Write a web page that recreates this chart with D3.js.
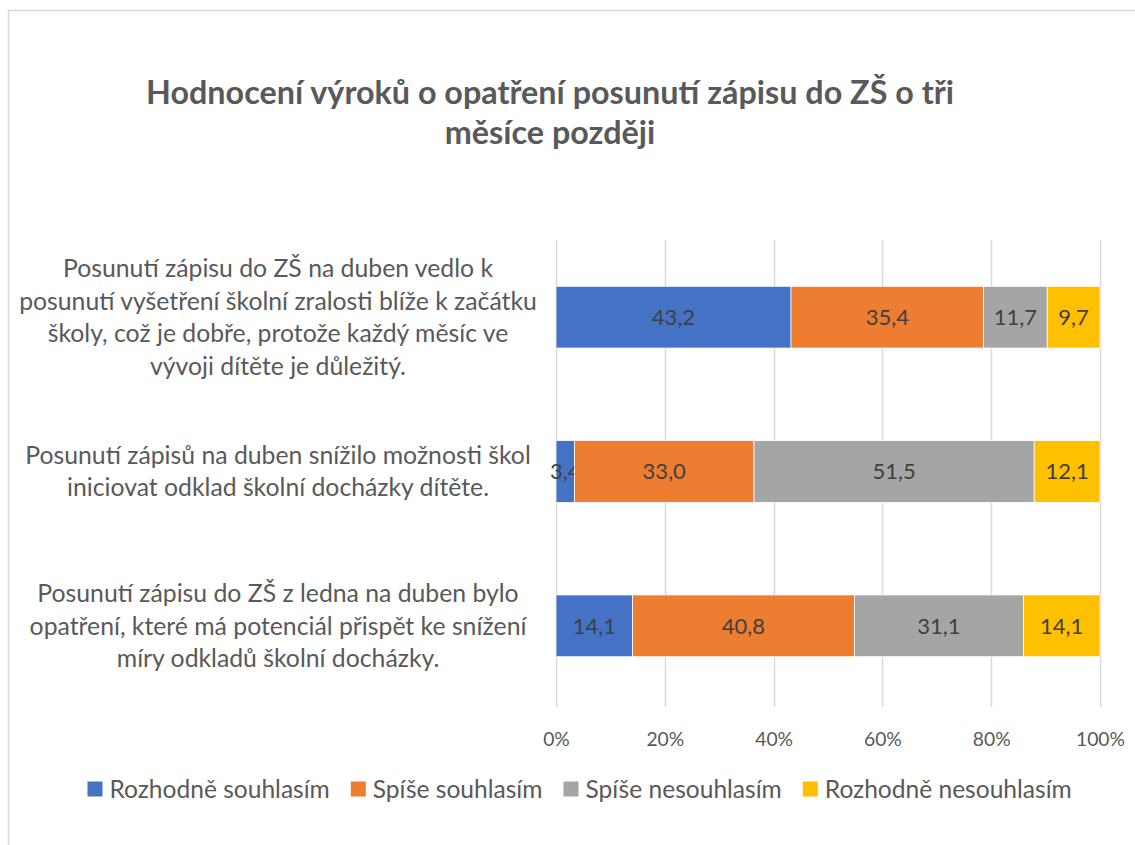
<!DOCTYPE html>
<html>
<head>
<meta charset="utf-8">
<script src="https://cdn.jsdelivr.net/npm/d3@7"></script>
<style>
  body { margin: 0; background: #fff; }
  svg { display: block; font-family: Lato, "Noto Sans", sans-serif; }
</style>
</head>
<body>
<svg id="chart" width="1135" height="845"></svg>
<script>
// data
var categories = ["c1", "c2", "c3"];
var categoryLines = [
  ["Posunutí zápisu do ZŠ na duben vedlo k",
   "posunutí vyšetření školní zralosti blíže k začátku",
   "školy, což je dobře, protože každý měsíc ve",
   "vývoji dítěte je důležitý."],
  ["Posunutí zápisů na duben snížilo možnosti škol",
   "iniciovat odklad školní docházky dítěte."],
  ["Posunutí zápisu do ZŠ z ledna na duben bylo",
   "opatření, které má potenciál přispět ke snížení",
   "míry odkladů školní docházky."]
];
var seriesNames = ["Rozhodně souhlasím", "Spíše souhlasím", "Spíše nesouhlasím", "Rozhodně nesouhlasím"];
var seriesColors = ["#4472C4", "#ED7D31", "#A5A5A5", "#FFC000"];
var rozhodneSouhlasim = [43.2, 3.4, 14.1];
var spiseSouhlasim = [35.4, 33.0, 40.8];
var spiseNesouhlasim = [11.7, 51.5, 31.1];
var rozhodneNesouhlasim = [9.7, 12.1, 14.1];
var tickValues = [0, 0.2, 0.4, 0.6, 0.8, 1];
var titleLines = ["Hodnocení výroků o opatření posunutí zápisu do ZŠ o tři", "měsíce později"];

var svg = d3.select("#chart");

// pick a font size so that sample text gets the width seen in the picture
function fitSize(sample, target, weight) {
  var t = svg.append("text").attr("font-size", 100).attr("font-weight", weight || "normal").text(sample);
  var w = t.node().getComputedTextLength();
  t.remove();
  return 100 * target / w;
}
var titleSize = fitSize(titleLines[0], 808, "bold");
var catSize = fitSize(categoryLines[0][1], 518);
var tickSize = fitSize("100%", 49);
var labelSize = 22;
var legendSize = fitSize("Rozhodně nesouhlasím", 247);

// chart area border
svg.append("rect")
  .attr("x", 8.5).attr("y", 10.5)
  .attr("width", 1140).attr("height", 850)
  .attr("fill", "none").attr("stroke", "#D9D9D9").attr("stroke-width", 1.5);

// title
svg.append("text")
  .attr("text-anchor", "middle")
  .attr("font-weight", "bold")
  .attr("font-size", titleSize)
  .attr("fill", "#595959")
  .selectAll("tspan").data(titleLines).enter().append("tspan")
  .attr("x", 550)
  .attr("y", function(d, i) { return 104 + i * 40; })
  .text(function(d) { return d; });

var x = d3.scaleLinear().domain([0, 1]).range([556, 1100]);
var y = d3.scaleBand().domain(categories).range([240, 703]).paddingInner(0.6).paddingOuter(0.3);

// gridlines
svg.append("g").selectAll("line").data(tickValues).enter().append("line")
  .attr("x1", function(d) { return Math.round(x(d)) + 0.5; })
  .attr("x2", function(d) { return Math.round(x(d)) + 0.5; })
  .attr("y1", 240).attr("y2", 707)
  .attr("stroke", "#D9D9D9").attr("stroke-width", 1.5);

// stacked bars
var rows = categories.map(function(c, i) {
  return {
    cat: c,
    s0: rozhodneSouhlasim[i], s1: spiseSouhlasim[i],
    s2: spiseNesouhlasim[i], s3: rozhodneNesouhlasim[i]
  };
});
var stack = d3.stack().keys(["s0", "s1", "s2", "s3"]).offset(d3.stackOffsetExpand);
var layers = stack(rows);
var fmt = function(v) { return d3.format(".1f")(v).replace(".", ","); };

var g = svg.append("g").selectAll("g").data(layers).enter().append("g")
  .attr("fill", function(d, i) { return seriesColors[i]; });

g.selectAll("rect").data(function(d) { return d; }).enter().append("rect")
  .attr("x", function(d) { return x(d[0]); })
  .attr("width", function(d) { return x(d[1]) - x(d[0]); })
  .attr("y", function(d) { return y(d.data.cat); })
  .attr("height", y.bandwidth())
  .attr("stroke", "#fff").attr("stroke-width", 0.75);

g.selectAll("text").data(function(d) { var key = d.key; return d.map(function(p) { return { p: p, v: p.data[key] }; }); })
  .enter().append("text")
  .attr("x", function(d) { return (x(d.p[0]) + x(d.p[1])) / 2; })
  .attr("y", function(d) { return y(d.p.data.cat) + y.bandwidth() / 2; })
  .attr("dy", "0.35em")
  .attr("text-anchor", "middle")
  .attr("font-size", labelSize)
  .attr("fill", "#404040")
  .text(function(d) { return fmt(d.v); });

// x axis tick labels
var xAxis = d3.axisBottom(x).tickValues(tickValues).tickSize(0).tickPadding(0).tickFormat(d3.format(".0%"));
var ax = svg.append("g").attr("transform", "translate(0,703)").call(xAxis);
ax.select(".domain").remove();
ax.attr("font-family", null).attr("font-size", null);
ax.selectAll("text")
  .attr("y", 36).attr("dy", "0.35em")
  .attr("font-size", tickSize).attr("fill", "#595959");

// category labels
var lineH = 32.5;
svg.append("g").selectAll("text").data(categories).enter().append("text")
  .attr("text-anchor", "middle")
  .attr("font-size", catSize)
  .attr("fill", "#595959")
  .each(function(c, i) {
    var lines = categoryLines[i];
    var cy = y(c) + y.bandwidth() / 2;
    d3.select(this).selectAll("tspan").data(lines).enter().append("tspan")
      .attr("x", 278)
      .attr("y", function(d, j) { return cy + (j - (lines.length - 1) / 2) * lineH; })
      .attr("dy", "0.35em")
      .text(function(d) { return d; });
  });

// legend
var legend = svg.append("g");
var items = legend.selectAll("g").data(seriesNames).enter().append("g");
items.append("rect").attr("width", 15).attr("height", 15).attr("y", -7.5)
  .attr("fill", function(d, i) { return seriesColors[i]; });
items.append("text").attr("x", 22).attr("dy", "0.35em")
  .attr("font-size", legendSize).attr("fill", "#595959")
  .text(function(d) { return d; });
var widths = [];
items.each(function() { widths.push(22 + d3.select(this).select("text").node().getComputedTextLength()); });
var gap = 21;
var pos = 87.5;
items.attr("transform", function(d, i) {
  var t = "translate(" + pos + ",789)";
  pos += widths[i] + gap;
  return t;
});
</script>
</body>
</html>
